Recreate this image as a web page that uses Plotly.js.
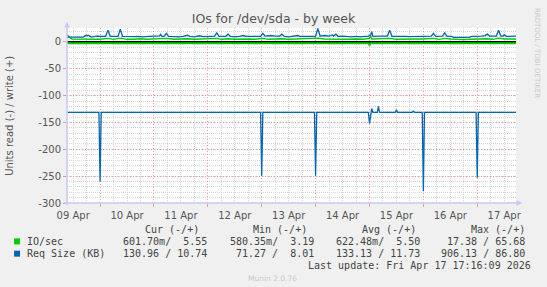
<!DOCTYPE html>
<html>
<head>
<meta charset="utf-8">
<script src="https://cdn.plot.ly/plotly-3.0.1.min.js"></script>
<style>html,body{margin:0;padding:0;background:#F0F0F0;}#chart{width:547px;height:287px;}</style>
</head>
<body>
<div id="chart"></div>
<script>
// ---------- DATA ----------
const title = 'IOs for /dev/sda - by week';
const yTitle = 'Units read (-) / write (+)';
const xRange = ['2026-04-09 09:16', '2026-04-17 17:16'];
const yTickVals = [0, -50, -100, -150, -200, -250, -300];
const yTickText = ['0', '-50', '-100', '-150', '-200', '-250', '-300'];

// Req Size (KB), write (+)
const reqWriteTimes = ['09 09:16','09 10:00','09 10:30','09 14:00','09 16:30','09 17:30','09 19:00','09 20:00','09 22:30',
 '10 01:00','10 02:30','10 03:30','10 04:30','10 08:00','10 09:00','10 10:00','10 13:00','10 15:00','10 17:00','10 19:00','10 21:30',
 '11 00:30','11 02:30','11 03:00','11 03:30','11 04:30','11 05:30','11 06:30','11 09:00','11 11:00','11 13:00','11 15:00','11 16:00','11 18:00','11 20:00','11 22:00',
 '12 01:00','12 03:00','12 04:00','12 05:00','12 08:00','12 09:00','12 10:00','12 12:00','12 14:00','12 16:00','12 17:00','12 19:00','12 22:00','12 23:30',
 '13 00:30','13 01:30','13 04:00','13 06:00','13 08:00','13 09:00','13 10:00','13 12:00','13 14:00','13 16:00','13 17:00','13 19:00','13 21:00',
 '14 00:00','14 01:00','14 02:00','14 04:00','14 06:00','14 07:30','14 08:00','14 09:00','14 10:00','14 12:00','14 14:00','14 16:00','14 18:00','14 20:00','14 22:00','14 23:30',
 '15 00:30','15 01:00','15 01:30','15 03:00','15 05:00','15 08:00','15 09:00','15 10:00','15 12:00','15 14:00','15 16:00','15 18:00','15 20:00','15 22:00',
 '16 00:00','16 02:00','16 03:30','16 04:30','16 05:30','16 08:30','16 09:30','16 10:30','16 12:30','16 13:30','16 17:00','16 20:30','16 21:30',
 '17 00:00','17 02:00','17 03:30','17 04:30','17 05:30','17 08:30','17 09:30','17 10:30','17 11:30','17 12:00','17 13:00','17 15:00','17 17:16'];
const reqWriteVals = [13,10,9,9,9,12,12,9,11,
 10.5,10.5,22,10.5,10.5,24,10.5,9.5,10,10.5,9.5,10.5,
 11,11.5,14,10.5,10.5,16,10.5,9.5,9.5,10.5,12.5,10.5,9.5,11.5,10,
 10.5,11,17,10.5,10.5,14.5,10.5,9.5,10.5,12,10.5,10,10.5,10.5,
 16,11,12,11,11,14.5,10.5,9.5,10.5,12,10.5,10.5,9.5,
 10.5,25,11,12,11,13,11,14.5,10.5,11,10,9.5,10.5,9.5,10.5,11,
 13,19,10.5,11,11,11,22,10.5,10.5,11.5,10.5,10,10.5,10.5,
 10.5,11.5,11,16,10.5,11,17,10.5,10.5,8.5,8.5,8.5,10.5,
 10.5,11,12,14.5,11,11,22,11,11,13.5,10.5,10,10.7];

// Req Size (KB), read (-)
const reqReadTimes = ['09 09:16','09 23:30','10 00:00','10 00:30','12 23:30','13 00:00','13 00:30','13 23:30','14 00:00','14 00:30',
 '14 23:30','15 00:00','15 00:30','15 01:00','15 01:30','15 03:30','15 04:00','15 04:30','15 11:30','15 12:00','15 12:30',
 '15 19:00','15 19:30','15 20:00','15 23:30','16 00:00','16 00:30','16 23:30','17 00:00','17 00:30','17 17:16'];
const reqReadVals = [-131,-131,-260,-131,-131,-249,-131,-131,-249,-131,
 -131,-152,-138,-124,-131,-131,-120,-131,-131,-126.5,-131,
 -131,-129,-131,-131,-278,-131,-131,-253,-131,-131];

// IO/sec, write (+)
const ioWriteTimes = ['09 09:16','09 10:30','09 11:30','09 15:00','09 18:00','09 21:00',
 '10 00:00','10 03:30','10 06:00','10 09:00','10 12:00','10 15:00','10 18:00','10 21:00',
 '11 00:00','11 03:00','11 05:30','11 09:00','11 12:00','11 15:00','11 18:00','11 21:00',
 '12 00:00','12 04:00','12 06:00','12 09:00','12 12:00','12 15:00','12 18:00','12 21:00',
 '13 00:30','13 03:00','13 06:00','13 09:00','13 12:00','13 15:00','13 18:00','13 21:00',
 '14 01:00','14 04:00','14 07:00','14 09:00','14 12:00','14 15:00','14 18:00','14 21:00',
 '15 00:00','15 00:30','15 01:00','15 04:00','15 09:00','15 12:00','15 15:00','15 18:00','15 21:00',
 '16 00:00','16 04:30','16 07:00','16 09:30','16 12:00','16 15:00','16 18:00','16 21:00',
 '17 00:00','17 04:30','17 07:00','17 09:30','17 12:00','17 15:00','17 17:16'];
const ioWriteVals = [8.5,8.5,5.5,5.5,5.5,5,
 5,6.5,5,7,5,5,6,5,
 5.5,6,6.5,5,5.5,6,5,5.5,
 5.5,6.5,5,6,5,5.5,5.5,5,
 6.5,5,5.5,6,5,5.5,5,5.5,
 7,5.5,5,6,5.5,5,5.5,5,
 6.5,11,5.5,5.5,6.5,5,5.5,5,5.5,
 5.5,6.5,5,6.5,5.5,4.5,4.5,5,
 5.5,6,5,7,5.5,5.5,5.55];

// IO/sec, read (-)
const ioReadTimes = ['09 09:16','10 00:00','13 00:00','14 23:30','15 00:00','15 00:30','16 00:00','17 00:00','17 17:16'];
const ioReadVals = [-2.2,-2.4,-2.4,-2.2,-6,-2.2,-2.4,-2.4,-2.2];

// Legend
const seriesNames = ['IO/sec', 'Req Size (KB)'];
const seriesColors = ['#00CC00', '#0066B3'];
const legendHeaders = ['Cur (-/+)', 'Min (-/+)', 'Avg (-/+)', 'Max (-/+)'];
const legendRows = [
  ['601.70m/  5.55', '580.35m/  3.19', '622.48m/  5.50', '17.38 / 65.68'],
  ['130.96 / 10.74', '71.27 /  8.01', '133.13 / 11.73', '906.13 / 86.80']
];
const lastUpdate = 'Last update: Fri Apr 17 17:16:09 2026';
const muninVersion = 'Munin 2.0.76';
const watermark = 'RRDTOOL / TOBI OETIKER';

// ---------- BUILD ----------
const T = s => '2026-04-' + s;
const W = 547, H = 287, L = 67, R = 516.5, TOP = 27.5, BOT = 203;
const px = x => (x - L) / (R - L);
const py = y => (BOT - y) / (BOT - TOP);
const nb = s => s.replace(/ /g, '\u00a0');

function line(times, vals, color, width) {
  return {x: times.map(T), y: vals, type: 'scatter', mode: 'lines',
    line: {color: color, width: width}, hoverinfo: 'skip', showlegend: false};
}
const traces = [
  line(ioReadTimes, ioReadVals, seriesColors[0], 2),
  line(ioWriteTimes, ioWriteVals, seriesColors[0], 1.3),
  line(reqReadTimes, reqReadVals, seriesColors[1], 1.3),
  line(reqWriteTimes, reqWriteVals, seriesColors[1], 1.3)
];

const mono = {family: 'DejaVu Sans Mono', size: 10, color: '#444'};
const ann = [];
const colRight = [208.5, 315, 421, 526.5];
const headRight = [200, 308.5, 417.5, 526.5];
legendHeaders.forEach((h, i) => ann.push({xref: 'paper', yref: 'paper', x: px(headRight[i]), y: py(229.5),
  text: nb(h), showarrow: false, xanchor: 'right', yanchor: 'middle', font: mono, borderpad: 0}));
legendRows.forEach((row, r) => {
  const yy = 241.5 + r * 12.3;
  ann.push({xref: 'paper', yref: 'paper', x: px(26), y: py(yy), text: nb(seriesNames[r]), showarrow: false,
    xanchor: 'left', yanchor: 'middle', font: mono, borderpad: 0});
  row.forEach((v, i) => ann.push({xref: 'paper', yref: 'paper', x: px(colRight[i]), y: py(yy), text: nb(v),
    showarrow: false, xanchor: 'right', yanchor: 'middle', font: mono, borderpad: 0}));
});
ann.push({xref: 'paper', yref: 'paper', x: px(533), y: py(266), text: nb(lastUpdate), showarrow: false,
  xanchor: 'right', yanchor: 'middle', font: mono, borderpad: 0});
ann.push({xref: 'paper', yref: 'paper', x: px(273), y: py(279), text: muninVersion, showarrow: false,
  xanchor: 'center', yanchor: 'middle', font: {family: 'DejaVu Sans', size: 7.5, color: '#c8c8c8'}, borderpad: 0});
ann.push({xref: 'paper', yref: 'paper', x: px(537), y: py(53), text: watermark, showarrow: false, textangle: 90,
  xanchor: 'center', yanchor: 'middle', font: {family: 'DejaVu Sans', size: 7, color: '#c8c8c8'}, borderpad: 0});
ann.push({xref: 'paper', yref: 'paper', x: px(10), y: py(115.5), text: yTitle, showarrow: false, textangle: -90,
  xanchor: 'center', yanchor: 'middle', font: {family: 'DejaVu Sans', size: 10, color: '#555'}, borderpad: 0});

const shapes = [];
seriesColors.forEach((c, r) => {
  const yy = 241.5 + r * 12.3;
  shapes.push({type: 'rect', xref: 'paper', yref: 'paper', x0: px(14), x1: px(20), y0: py(yy - 3), y1: py(yy + 3),
    fillcolor: c, line: {width: 0}});
});
const axc = '#c8c8f4';
shapes.push({type: 'line', xref: 'paper', yref: 'paper', x0: px(67), x1: px(67), y0: py(205), y1: py(26), line: {color: axc, width: 1.5}, layer: 'above'});
shapes.push({type: 'line', xref: 'paper', yref: 'paper', x0: px(64), x1: px(518), y0: py(203), y1: py(203), line: {color: axc, width: 1.5}, layer: 'above'});
shapes.push({type: 'path', xref: 'paper', yref: 'paper', fillcolor: axc, line: {width: 0}, layer: 'above',
  path: `M ${px(64.3)} ${py(27)} L ${px(69.7)} ${py(27)} L ${px(67)} ${py(21)} Z`});
shapes.push({type: 'path', xref: 'paper', yref: 'paper', fillcolor: axc, line: {width: 0}, layer: 'above',
  path: `M ${px(517)} ${py(200.3)} L ${px(517)} ${py(205.7)} L ${px(523)} ${py(203)} Z`});

const majorGrid = 'rgba(235,120,120,0.75)';
const minorGrid = '#d4d4d4';
const tickFont = {family: 'DejaVu Sans', size: 10, color: '#555'};
const layout = {
  width: W, height: H,
  paper_bgcolor: '#F0F0F0', plot_bgcolor: '#FFFFFF',
  margin: {l: L, r: W - R, t: TOP, b: H - BOT, pad: 0},
  title: {text: title, x: 0.5, xref: 'container', xanchor: 'center', y: 1 - 19 / H, yref: 'container', yanchor: 'middle',
    font: {family: 'DejaVu Sans', size: 12.5, color: '#555'}},
  showlegend: false,
  xaxis: {type: 'date', range: xRange, tick0: '2026-04-09', dtick: 86400000, tickformat: '%d %b',
    ticklabelmode: 'period', showgrid: true, gridcolor: majorGrid, griddash: '1px,2px', gridwidth: 1,
    minor: {dtick: 21600000, showgrid: true, gridcolor: minorGrid, griddash: '1px,1px', gridwidth: 1},
    ticks: 'outside', ticklen: 3, tickcolor: majorGrid, tickfont: tickFont, zeroline: false, showline: false, fixedrange: true},
  yaxis: {range: [-300, 26], tickvals: yTickVals, ticktext: yTickText, showgrid: true, gridcolor: majorGrid,
    griddash: '1px,2px', gridwidth: 1,
    minor: {tick0: 0, dtick: 10, showgrid: true, gridcolor: minorGrid, griddash: '1px,1px', gridwidth: 1},
    ticks: 'outside', ticklen: 3, tickcolor: majorGrid, tickfont: tickFont,
    zeroline: true, zerolinecolor: '#000000', zerolinewidth: 2, showline: false, fixedrange: true},
  annotations: ann,
  shapes: shapes
};
Plotly.newPlot('chart', traces, layout, {staticPlot: true, displayModeBar: false});
</script>
</body>
</html>
